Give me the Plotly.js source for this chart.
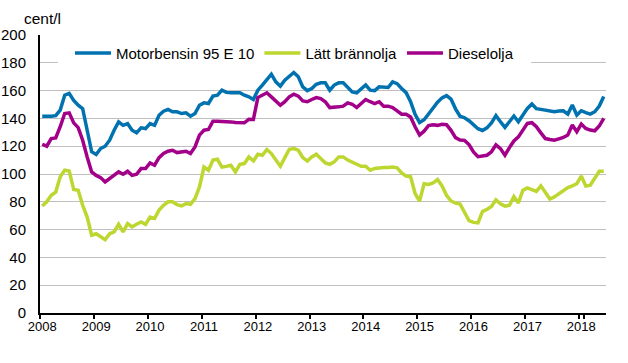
<!DOCTYPE html>
<html>
<head>
<meta charset="utf-8">
<script src="https://cdn.plot.ly/plotly-3.0.1.min.js"></script>
<style>
  html, body { margin: 0; padding: 0; background: #ffffff; }
  #chart { width: 628px; height: 363px; }
</style>
</head>
<body>
<div id="chart"></div>
<script>
// ---- Data (cent/l), monthly Jan 2008 – Jun 2018 ----
const startYear = 2008;
const monthCount = 126;
const tickYears = ['2008','2009','2010','2011','2012','2013','2014','2015','2016','2017','2018'];

const motorbensin = [
  141.6, 141.4, 141.6, 142, 146, 156.7, 158, 153, 149.5, 147, 131.5, 116,
  114, 118.3, 120, 124.3, 131.5, 137.5, 135, 136.3, 131.5, 129.6, 133.2, 132.7,
  136.3, 135, 142.3, 145.2, 146.4, 144.7, 144.7, 143.5, 144, 141.6, 143.5, 149.5,
  151.2, 150.7, 156, 156.7, 160.3, 158.7, 158.4, 158.4, 158.4, 156.7, 155.5, 153.6,
  160.3, 164, 168, 171.8, 166.3, 163.2, 167.5, 170, 173, 170, 162.7, 160,
  161.5, 164.6, 165.6, 165.6, 160.3, 164, 165.6, 165.6, 162.7, 159, 158.4, 161.5,
  164, 160.3, 160, 162.7, 162.2, 162.2, 166.3, 165, 161.5, 158.5, 152, 143,
  137, 139, 143.2, 147.9, 151.6, 154.8, 156.4, 153.9, 146.9, 141.6, 140.5, 138.3,
  135.7, 132.6, 131.3, 133.2, 136.7, 142, 137.6, 133.5, 137.6, 141.7, 137.6, 142.4,
  147.2, 150.4, 147, 146.5, 146, 145.5, 144.8, 145.3, 145.5, 143.1, 149.6, 142.4,
  145.5, 144.1, 143.1, 144.8, 148.9, 155.7
];

const lattBrannolja = [
  77, 80, 84.7, 87, 98, 102.7, 102.2, 88.8, 88.3, 77.5, 69, 56,
  57, 55, 52.7, 57, 58.3, 63.8, 58.3, 64.3, 62, 63.8, 65.5, 63.8,
  69, 68, 74, 77.5, 80, 80, 78, 77, 78.7, 78.2, 82.3, 90.7,
  105, 102.7, 110, 110.6, 105, 105.5, 106.3, 101.5, 107, 107.5, 112.3, 109.4,
  114.2, 113.5, 117.6, 114.7, 110.4, 105.6, 111.8, 117.8, 118.3, 117.1, 111.8, 109.4,
  112.3, 114.2, 111.1, 108, 107, 108.7, 112.3, 112.3, 110, 108.7, 107.5, 105.6,
  105.6, 102.7, 104, 104.6, 104.6, 104.6, 105, 104.4, 100.8, 98.5, 98, 86,
  80.5, 93, 92.5, 93.5, 96, 91.4, 84.7, 80.6, 79, 78.4, 72, 66.5,
  65.2, 64.9, 73, 74.5, 76.7, 81.4, 78.6, 76.9, 77.5, 83.7, 79.2, 88.3,
  90, 89, 87.5, 91.5, 86.3, 82, 83.5, 85.8, 87.5, 90.2, 91.5, 93,
  98.5, 91.3, 92, 96.5, 102, 102
];

const dieselolja = [
  121.4, 120, 125.5, 126, 134, 143.5, 144, 136.8, 133.4, 124.3, 112.3, 101.5,
  99, 97.4, 94.3, 96.7, 99, 101.5, 99.8, 102, 99, 99.8, 103.9, 103.9,
  108, 106.3, 111.8, 114.7, 116.4, 117.1, 115.4, 115.9, 116.4, 114.7, 119.5, 128,
  131.5, 132, 138, 138, 138, 137.8, 137.5, 137, 136.8, 136.8, 139.4, 139.2,
  155, 156.7, 158.4, 155.5, 152.6, 149.5, 152, 155.5, 157.4, 156, 152.6, 152,
  153.6, 155, 154.3, 152, 147.8, 147.8, 148.3, 148.8, 151.2, 150.2, 147.8, 150.7,
  153.6, 152, 150.7, 152, 148.8, 148.8, 147.8, 145.4, 143, 143, 141, 134,
  128, 130.8, 134.9, 135.5, 135, 135.8, 135.5, 131.4, 126.2, 124.5, 124.2, 121.2,
  115.9, 112.5, 112.8, 113.5, 116, 121, 118.3, 113.5, 119, 123.8, 126.7, 132,
  136.4, 136.9, 134, 129.6, 125.5, 124.8, 124.3, 125.3, 126.3, 128, 135.2, 130.4,
  135.9, 132.8, 131.6, 131.1, 134.5, 140
];

const seriesNames = ['Motorbensin 95 E 10', 'Lätt brännolja', 'Dieselolja'];
const seriesColors = ['#0072B0', '#BED630', '#A3008A'];

// month categories "2008M01" ...
const months = [];
for (let i = 0; i < monthCount; i++) {
  const y = startYear + Math.floor(i / 12);
  const m = (i % 12) + 1;
  months.push(y + 'M' + String(m).padStart(2, '0'));
}
const tickVals = tickYears.map(y => y + 'M01');

const FONT = 'Liberation Sans, Arial, sans-serif';
const values = [motorbensin, lattBrannolja, dieselolja];

const traces = values.map((v, i) => ({
  type: 'scatter',
  mode: 'lines',
  x: months,
  y: v,
  name: seriesNames[i],
  line: { color: seriesColors[i], width: 3.5 },
  hoverinfo: 'skip'
}));

const layout = {
  width: 628,
  height: 363,
  margin: { l: 40, r: 22, t: 35, b: 50, pad: 0 },
  paper_bgcolor: '#ffffff',
  plot_bgcolor: '#ffffff',
  font: { family: FONT, size: 15, color: '#000000' },
  showlegend: true,
  legend: {
    orientation: 'h',
    x: 0.053,
    xanchor: 'left',
    y: 0.934,
    yanchor: 'middle',
    bgcolor: 'rgba(0,0,0,0)',
    borderwidth: 0,
    font: { family: FONT, size: 15, color: '#000000' },
    itemwidth: 36,
    traceorder: 'normal'
  },
  xaxis: {
    type: 'category',
    range: [-0.5, monthCount - 0.5],
    tickmode: 'array',
    tickvals: tickVals,
    ticktext: tickYears,
    tickson: 'boundaries',
    tickangle: 0,
    showgrid: false,
    zeroline: false,
    showline: true,
    linecolor: '#000000',
    linewidth: 2,
    ticks: 'outside',
    ticklen: 4,
    tickwidth: 2,
    tickcolor: '#000000',
    tickfont: { family: FONT, size: 13, color: '#000000' },
    fixedrange: true
  },
  yaxis: {
    range: [0, 200],
    tickmode: 'linear',
    tick0: 0,
    dtick: 20,
    showgrid: true,
    gridcolor: '#BFBFBF',
    gridwidth: 1,
    zeroline: false,
    showline: true,
    linecolor: '#000000',
    linewidth: 2,
    ticks: '',
    ticklabelstandoff: 9,
    tickfont: { family: FONT, size: 15, color: '#000000' },
    fixedrange: true
  },
  shapes: [
    {
      type: 'rect', xref: 'paper', yref: 'paper',
      x0: 0.0318, x1: 0.868, y0: 0.885, y1: 1.02,
      fillcolor: '#ffffff', line: { width: 0 }, layer: 'above'
    }
  ],
  annotations: [
    {
      text: 'cent/l', xref: 'paper', yref: 'paper',
      x: -0.0323, xanchor: 'left', y: 1.06, yanchor: 'middle',
      showarrow: false, font: { family: FONT, size: 15.5, color: '#000000' }
    }
  ]
};

Plotly.newPlot('chart', traces, layout, { staticPlot: true, displayModeBar: false });
</script>
</body>
</html>
